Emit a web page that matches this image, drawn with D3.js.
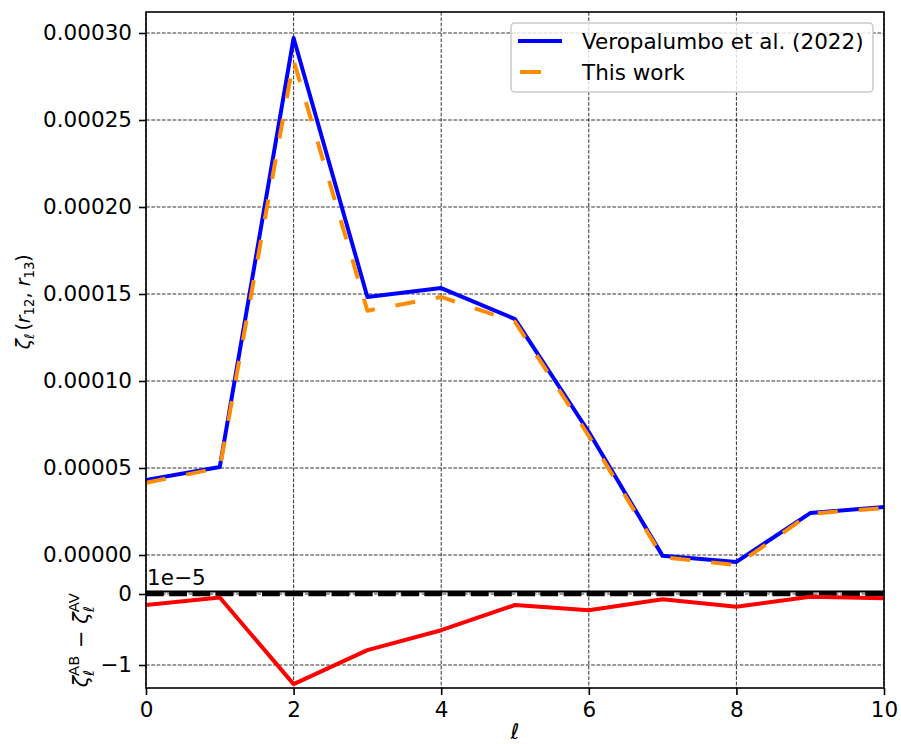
<!DOCTYPE html>
<html>
<head>
<meta charset="utf-8">
<script src="https://cdn.jsdelivr.net/npm/d3@7"></script>
<style>
  html, body { margin: 0; padding: 0; background: #fff; }
  svg { display: block; font-family: "DejaVu Sans", sans-serif; }
  svg text { white-space: pre; }
</style>
</head>
<body>
<svg id="chart" width="901" height="744"></svg>
<script>
// multipole index
const ell = [0, 1, 2, 3, 4, 5, 6, 7, 8, 9, 10];
// Veropalumbo et al. (2022)
const zetaRef = [4.31e-5, 5.06e-5, 2.971e-4, 1.483e-4, 1.534e-4, 1.356e-4, 7.07e-5, -0.05e-5, -0.40e-5, 2.41e-5, 2.76e-5];
// This work
const zetaOurs = [4.155e-5, 5.01e-5, 2.843e-4, 1.404e-4, 1.483e-4, 1.340e-4, 6.84e-5, -0.125e-5, -0.58e-5, 2.37e-5, 2.70e-5];
// difference, in units of 1e-5
const zetaDiff = [-0.155, -0.05, -1.27, -0.79, -0.51, -0.155, -0.23, -0.075, -0.18, -0.04, -0.06];

const xTicks = [0, 2, 4, 6, 8, 10];
const yTicksTop = [0, 0.00005, 0.0001, 0.00015, 0.0002, 0.00025, 0.0003];
const yTickLabelsTop = ["0.00000", "0.00005", "0.00010", "0.00015", "0.00020", "0.00025", "0.00030"];
const yTicksBot = [0, -1];
const yTickLabelsBot = ["0", "\u22121"];
const legendLabels = ["Veropalumbo et al. (2022)", "This work"];

const svg = d3.select("#chart");
const FS = 21.5;
const left = 146, right = 884;
const topY0 = 12, midY = 591.5, botY1 = 688;

const x = d3.scaleLinear().domain([0, 10]).range([left, right]);
const yTop = d3.scaleLinear().domain([-2.098e-5, 3.1207e-4]).range([midY, topY0]);
const yBot = d3.scaleLinear().domain([0.0352, -1.324]).range([midY, botY1]);

const defs = svg.append("defs");
defs.append("clipPath").attr("id", "clipTop").append("rect")
  .attr("x", left).attr("y", topY0).attr("width", right - left).attr("height", midY - topY0);
defs.append("clipPath").attr("id", "clipBot").append("rect")
  .attr("x", left).attr("y", midY).attr("width", right - left).attr("height", botY1 - midY);

// grid lines
function grid(g, yScale, yVals, y0, y1) {
  g.selectAll("line.gx").data(xTicks).join("line").attr("class", "gx")
    .attr("x1", d => x(d)).attr("x2", d => x(d)).attr("y1", y0).attr("y2", y1);
  g.selectAll("line.gy").data(yVals).join("line").attr("class", "gy")
    .attr("x1", left).attr("x2", right).attr("y1", d => yScale(d)).attr("y2", d => yScale(d));
  g.selectAll("line").attr("stroke", "#000").attr("stroke-width", 1)
    .attr("stroke-dasharray", "3.7,1.6").attr("opacity", 0.8);
}
grid(svg.append("g"), yTop, yTicksTop, topY0, midY);
grid(svg.append("g"), yBot, yTicksBot, midY, botY1);

// top panel curves
const lineTop = d3.line().x((d, i) => x(ell[i])).y(d => yTop(d));
const gTop = svg.append("g").attr("clip-path", "url(#clipTop)");
gTop.append("path").datum(zetaRef).attr("d", lineTop)
  .attr("fill", "none").attr("stroke", "#0000ff").attr("stroke-width", 4)
  .attr("stroke-linejoin", "round").attr("stroke-linecap", "square");
gTop.append("path").datum(zetaOurs).attr("d", lineTop)
  .attr("fill", "none").attr("stroke", "#ff8c00").attr("stroke-width", 4)
  .attr("stroke-linejoin", "round").attr("stroke-dasharray", "20,21");

// bottom panel: zero reference and difference
const lineBot = d3.line().x((d, i) => x(ell[i])).y(d => yBot(d));
const gBot = svg.append("g").attr("clip-path", "url(#clipBot)");
gBot.append("line").attr("x1", x(0)).attr("x2", x(10)).attr("y1", yBot(0)).attr("y2", yBot(0))
  .attr("stroke", "#000").attr("stroke-width", 4.4).attr("stroke-dasharray", "17.8,5.4");
gBot.append("path").datum(zetaDiff).attr("d", lineBot)
  .attr("fill", "none").attr("stroke", "#ff0000").attr("stroke-width", 4)
  .attr("stroke-linejoin", "round").attr("stroke-linecap", "square");

// spines
const spines = svg.append("g").attr("fill", "none").attr("stroke", "#000").attr("stroke-width", 1.6);
spines.append("rect").attr("x", left).attr("y", topY0).attr("width", right - left).attr("height", midY - topY0);
spines.append("rect").attr("x", left).attr("y", midY).attr("width", right - left).attr("height", botY1 - midY);

// axes
function styleAxis(g) {
  g.select(".domain").remove();
  g.selectAll(".tick line").attr("stroke", "#000").attr("stroke-width", 1.6);
  g.selectAll(".tick text").attr("font-size", FS).attr("font-family", "DejaVu Sans").attr("fill", "#000");
}
svg.append("g").attr("transform", `translate(${left},0)`)
  .call(d3.axisLeft(yTop).tickValues(yTicksTop).tickFormat((d, i) => yTickLabelsTop[i]).tickSize(7).tickPadding(7))
  .call(styleAxis);
svg.append("g").attr("transform", `translate(${left},0)`)
  .call(d3.axisLeft(yBot).tickValues(yTicksBot).tickFormat((d, i) => yTickLabelsBot[i]).tickSize(7).tickPadding(7))
  .call(styleAxis);
svg.append("g").attr("transform", `translate(0,${botY1})`)
  .call(d3.axisBottom(x).tickValues(xTicks).tickFormat(d3.format("d")).tickSize(7).tickPadding(7))
  .call(styleAxis);

// offset text for the lower panel
svg.append("text").attr("x", left + 1).attr("y", 585).attr("font-size", FS).text("1e\u22125");

// math-style label builder: parts laid out left to right
function mathLabel(g, parts, fs) {
  let cx = 0;
  parts.forEach(p => {
    if (p.stack) {
      let w = 0;
      p.stack.forEach(s => {
        const t = g.append("text").attr("x", cx).attr("y", s.dy * fs)
          .attr("font-size", fs * 0.7).attr("font-style", s.it ? "italic" : "normal").text(s.t);
        w = Math.max(w, t.node().getComputedTextLength());
      });
      cx += w + fs * 0.05;
    } else {
      const size = p.sub ? fs * 0.7 : fs;
      const t = g.append("text").attr("x", cx).attr("y", p.sub ? 0.22 * fs : 0)
        .attr("font-size", size).attr("font-style", p.it ? "italic" : "normal").text(p.t);
      cx += t.node().getComputedTextLength() + (p.gap || 0) * fs;
    }
  });
  return cx;
}

// y label of the upper panel
{
  const g = svg.append("g");
  const w = mathLabel(g, [
    { t: "\u03b6", it: true }, { t: "\u2113", it: true, sub: true, gap: 0.15 },
    { t: "(" }, { t: "r", it: true }, { t: "12", sub: true }, { t: ", " },
    { t: "r", it: true }, { t: "13", sub: true }, { t: ")" }
  ], 19);
  g.attr("transform", `translate(30,${(topY0 + midY) / 2}) rotate(-90) translate(${-w / 2},0)`);
}
// y label of the lower panel
{
  const g = svg.append("g");
  const w = mathLabel(g, [
    { t: "\u03b6", it: true },
    { stack: [{ t: "AB", dy: -0.45 }, { t: "\u2113", it: true, dy: 0.3 }] },
    { t: " \u2212 " },
    { t: "\u03b6", it: true },
    { stack: [{ t: "AV", dy: -0.45 }, { t: "\u2113", it: true, dy: 0.3 }] }
  ], 21);
  g.attr("transform", `translate(88,${(midY + botY1) / 2}) rotate(-90) translate(${-w / 2},0)`);
}
// x label
svg.append("text").attr("x", (left + right) / 2).attr("y", 739).attr("text-anchor", "middle")
  .attr("font-size", FS).attr("font-style", "italic").text("\u2113");

// legend
const lg = svg.append("g");
lg.append("rect").attr("x", 511).attr("y", 23).attr("width", 362).attr("height", 69).attr("rx", 4)
  .attr("fill", "#fff").attr("fill-opacity", 0.8).attr("stroke", "#ccc").attr("stroke-width", 1.6);
const legendStyles = [
  { color: "#0000ff", x1: 520, x2: 560, dash: null, cap: "square" },
  { color: "#ff8c00", x1: 520, x2: 560, dash: "21,21", cap: "butt" }
];
legendLabels.forEach((lab, i) => {
  const cy = 41 + i * 31;
  const s = legendStyles[i];
  lg.append("line").attr("x1", s.x1).attr("x2", s.x2).attr("y1", cy).attr("y2", cy)
    .attr("stroke", s.color).attr("stroke-width", 4).attr("stroke-linecap", s.cap)
    .attr("stroke-dasharray", s.dash);
  lg.append("text").attr("x", 582).attr("y", cy + 7.5).attr("font-size", FS).text(lab);
});
</script>
</body>
</html>
